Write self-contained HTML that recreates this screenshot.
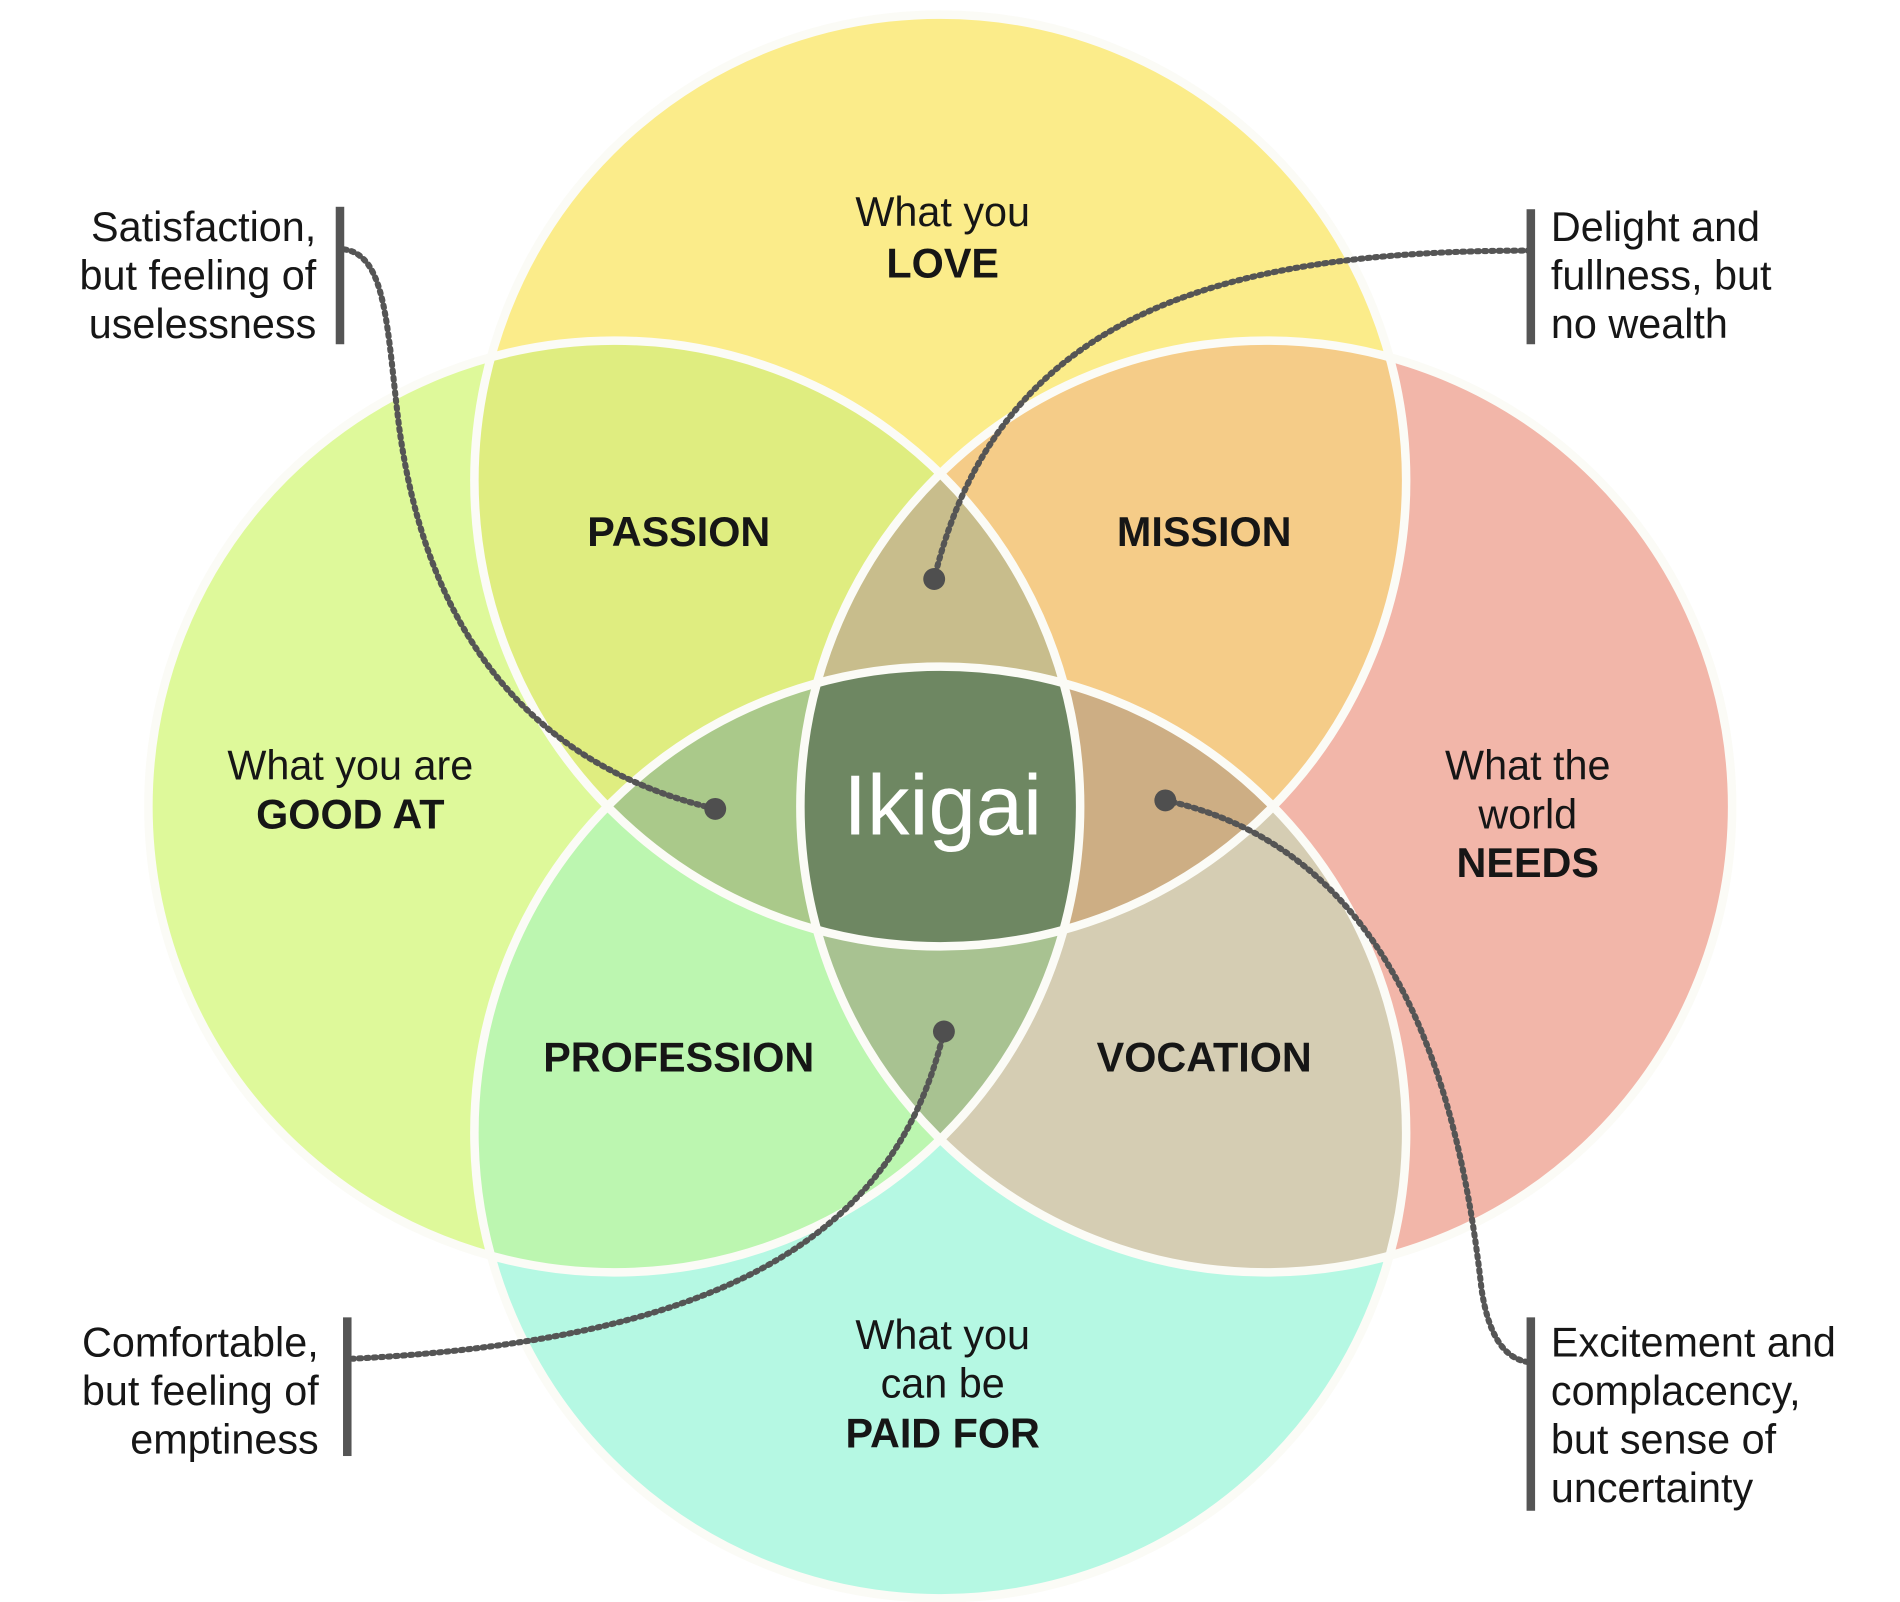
<!DOCTYPE html>
<html><head><meta charset="utf-8"><style>
html,body{margin:0;padding:0;background:#fff;width:1900px;height:1602px;overflow:hidden}
svg{display:block}
text{font-family:"Liberation Sans",sans-serif;fill:#161616}
.b{font-weight:bold}
</style></head><body>
<svg width="1900" height="1602" viewBox="0 0 1562 1317" xmlns="http://www.w3.org/2000/svg">
<defs>
<clipPath id="cT"><circle cx="773" cy="395" r="383"/></clipPath>
<clipPath id="cB"><circle cx="773" cy="931" r="383"/></clipPath>
<clipPath id="cL"><circle cx="505" cy="663" r="383"/></clipPath>
<clipPath id="cR"><circle cx="1041" cy="663" r="383"/></clipPath>
</defs>
<circle cx="773" cy="395" r="383" fill="#fbec8a"/>
<circle cx="505" cy="663" r="383" fill="#def99a"/>
<circle cx="1041" cy="663" r="383" fill="#f2b6a9"/>
<circle cx="773" cy="931" r="383" fill="#b5f8e3"/>
<g clip-path="url(#cT)"><circle cx="505" cy="663" r="383" fill="#dfed80"/><circle cx="1041" cy="663" r="383" fill="#f5cc88"/></g>
<g clip-path="url(#cB)"><circle cx="505" cy="663" r="383" fill="#bcf6b0"/><circle cx="1041" cy="663" r="383" fill="#d5cdb3"/></g>
<g clip-path="url(#cT)"><g clip-path="url(#cL)"><circle cx="1041" cy="663" r="383" fill="#c8bd8c"/></g></g>
<g clip-path="url(#cT)"><g clip-path="url(#cB)"><circle cx="505" cy="663" r="383" fill="#aac98a"/><circle cx="1041" cy="663" r="383" fill="#cdae84"/></g></g>
<g clip-path="url(#cB)"><g clip-path="url(#cL)"><circle cx="1041" cy="663" r="383" fill="#a8c291"/></g></g>
<g clip-path="url(#cT)"><g clip-path="url(#cB)"><g clip-path="url(#cL)"><circle cx="1041" cy="663" r="383" fill="#6e8762"/></g></g></g>
<g fill="none" stroke="#fbfbf6" stroke-width="7">
<circle cx="773" cy="395" r="383"/><circle cx="505" cy="663" r="383"/><circle cx="1041" cy="663" r="383"/><circle cx="773" cy="931" r="383"/>
</g>
<!-- dotted connectors -->
<g fill="none" stroke="#555" stroke-width="5" stroke-dasharray="2 4" stroke-linecap="round">
<path d="M283,205 C318,210 318,270 328,350 C348,500 420,625 588,665"/>
<path d="M1258,206 C1000,206 820,260 768,476"/>
<path d="M958,658 C1150,700 1200,900 1218,1060 C1224,1100 1238,1118 1258,1120"/>
<path d="M776,848 C740,1000 620,1100 290,1117"/>
</g>
<g fill="#4f4f4f"><circle cx="588" cy="665" r="9"/><circle cx="768" cy="476" r="9"/><circle cx="958" cy="658" r="9"/><circle cx="776" cy="848" r="9"/></g>
<g fill="#555"><rect x="276" y="170" width="7" height="113"/><rect x="1255" y="172" width="7" height="111"/><rect x="282" y="1083" width="7" height="114"/><rect x="1255" y="1083" width="7" height="159"/></g>
<g font-size="34">
<text x="260" y="198" text-anchor="end">Satisfaction,</text>
<text x="260" y="238" text-anchor="end">but feeling of</text>
<text x="260" y="278" text-anchor="end">uselessness</text>
<text x="1275" y="198">Delight and</text>
<text x="1275" y="238">fullness, but</text>
<text x="1275" y="278">no wealth</text>
<text x="262" y="1115" text-anchor="end">Comfortable,</text>
<text x="262" y="1155" text-anchor="end">but feeling of</text>
<text x="262" y="1195" text-anchor="end">emptiness</text>
<text x="1275" y="1115">Excitement and</text>
<text x="1275" y="1155">complacency,</text>
<text x="1275" y="1195">but sense of</text>
<text x="1275" y="1235">uncertainty</text>
</g>
<g font-size="34" text-anchor="middle">
<text x="775" y="186">What you</text>
<text x="775" y="228" class="b">LOVE</text>
<text x="288" y="641">What you are</text>
<text x="288" y="681" class="b">GOOD AT</text>
<text x="1256" y="641">What the</text>
<text x="1256" y="681">world</text>
<text x="1256" y="721" class="b">NEEDS</text>
<text x="775" y="1109">What you</text>
<text x="775" y="1149">can be</text>
<text x="775" y="1190" class="b">PAID FOR</text>
<text x="558" y="449" class="b">PASSION</text>
<text x="990" y="449" class="b">MISSION</text>
<text x="558" y="881" class="b">PROFESSION</text>
<text x="990" y="881" class="b">VOCATION</text>
<text x="775" y="686" font-size="70" style="fill:#fff">Ikigai</text>
</g>
</svg>
</body></html>
